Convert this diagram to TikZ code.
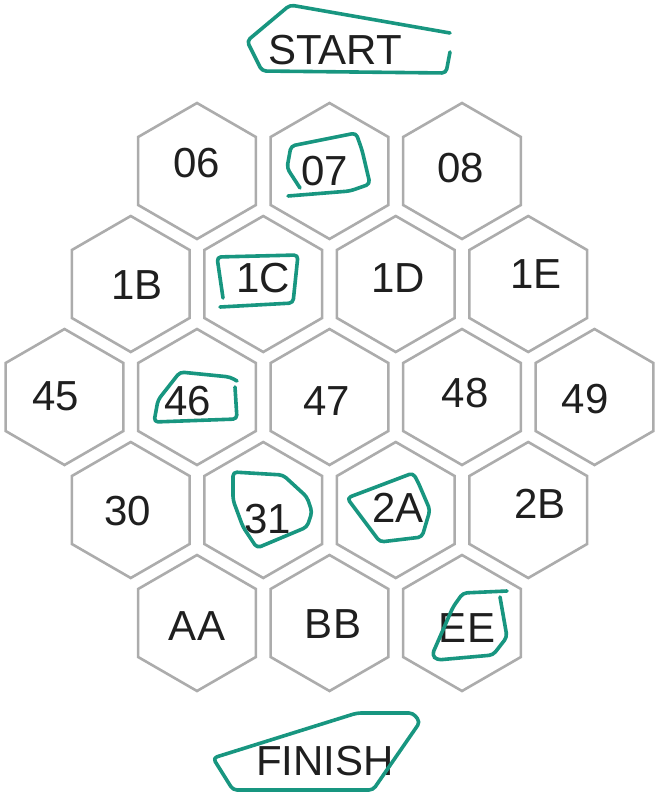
\documentclass[tikz,border=0pt]{standalone}
\usepackage{fontspec}
\setmainfont{Liberation Sans}
\usetikzlibrary{shapes.geometric}
\definecolor{penteal}{RGB}{24,150,128}
\definecolor{cellgrey}{RGB}{172,172,172}

\begin{document}
\begin{tikzpicture}[x=0.5pt, y=-0.5pt]
  % Define cell, text and pen styles
  \tikzstyle{hexcell} = [draw=cellgrey, fill=white, line width=1.3pt,
  regular polygon, regular polygon sides=6, shape border rotate=30,
  minimum size=68pt, inner sep=0pt, outer sep=0pt]
  \tikzstyle{celltext} = [font=\fontsize{21}{25}\selectfont, text=black!88, inner sep=0pt]
  \tikzstyle{penmark} = [draw=penteal, line width=1.8pt, line join=round,
  line cap=round, rounded corners=2pt]

  \useasboundingbox (0,0) rectangle (656,808);

  % Row 1
  \node[hexcell] (c06) at (197,171) {};
  \node[hexcell] (c07) at (329.5,171) {};
  \node[hexcell] (c08) at (462,171) {};
  % Row 2
  \node[hexcell] (c1B) at (130.75,284) {};
  \node[hexcell] (c1C) at (263.25,284) {};
  \node[hexcell] (c1D) at (395.75,284) {};
  \node[hexcell] (c1E) at (528.25,284) {};
  % Row 3
  \node[hexcell] (c45) at (64.5,397) {};
  \node[hexcell] (c46) at (197,397) {};
  \node[hexcell] (c47) at (329.5,397) {};
  \node[hexcell] (c48) at (462,397) {};
  \node[hexcell] (c49) at (594.5,397) {};
  % Row 4
  \node[hexcell] (c30) at (130.75,510) {};
  \node[hexcell] (c31) at (263.25,510) {};
  \node[hexcell] (c2A) at (395.75,510) {};
  \node[hexcell] (c2B) at (528.25,510) {};
  % Row 5
  \node[hexcell] (cAA) at (197,623) {};
  \node[hexcell] (cBB) at (329.5,623) {};
  \node[hexcell] (cEE) at (462,623) {};

  % Cell labels
  \node[celltext] (l06) at (197,163) {06};
  \node[celltext] (l07) at (325,171) {07};
  \node[celltext] (l08) at (461,168) {08};
  \node[celltext] (l1B) at (137,285) {1B};
  \node[celltext] (l1C) at (263,278) {1C};
  \node[celltext] (l1D) at (398,278) {1D};
  \node[celltext] (l1E) at (536,274) {1E};
  \node[celltext] (l45) at (56,396) {45};
  \node[celltext] (l46) at (188,401) {46};
  \node[celltext] (l47) at (327,401) {47};
  \node[celltext] (l48) at (465,393) {48};
  \node[celltext] (l49) at (585,399) {49};
  \node[celltext] (l30) at (128,511) {30};
  \node[celltext] (l31) at (268,519) {31};
  \node[celltext] (l2A) at (398,508) {2A};
  \node[celltext] (l2B) at (540,504) {2B};
  \node[celltext] (lAA) at (197,626) {AA};
  \node[celltext] (lBB) at (333,624) {BB};
  \node[celltext] (lEE) at (467,628) {EE};

  \node[celltext] (start) at (335,50) {START};
  \node[celltext] (finish) at (325,761) {FINISH};

  % Hand drawn marks
  \draw[penmark] (450,33) -- (290,5) -- (247,41) -- (262,71) -- (446,73) -- (450,52);
  \draw[penmark] (300,188) -- (287,168) -- (291,146) -- (356,133) -- (362,150)
    -- (370,184) -- (350,191) -- (288,196);
  \draw[penmark] (223,298) -- (217,257) -- (298,255) -- (293,303) -- (220,307);
  \draw[penmark] (237,381) -- (230,377) -- (180,372) -- (158,400) -- (154,422)
    -- (237,419) -- (235,387);
  \draw[penmark] (233,472) -- (283,475) -- (307,497) -- (312,512) -- (307,527)
    -- (257,548) -- (243,527) -- (233,500) -- cycle;
  \draw[penmark] (347,498) -- (413,473) -- (418,482) -- (430,510) -- (422,537)
    -- (380,542) -- cycle;
  \draw[penmark] (507,591) -- (463,593) -- (453,607) -- (432,655) -- (437,660)
    -- (493,655) -- (507,637) -- (500,597);
  \draw[penmark] (213,758) -- (357,713) -- (413,713) -- (420,722) -- (373,790)
    -- (233,790) -- cycle;
\end{tikzpicture}
\end{document}
